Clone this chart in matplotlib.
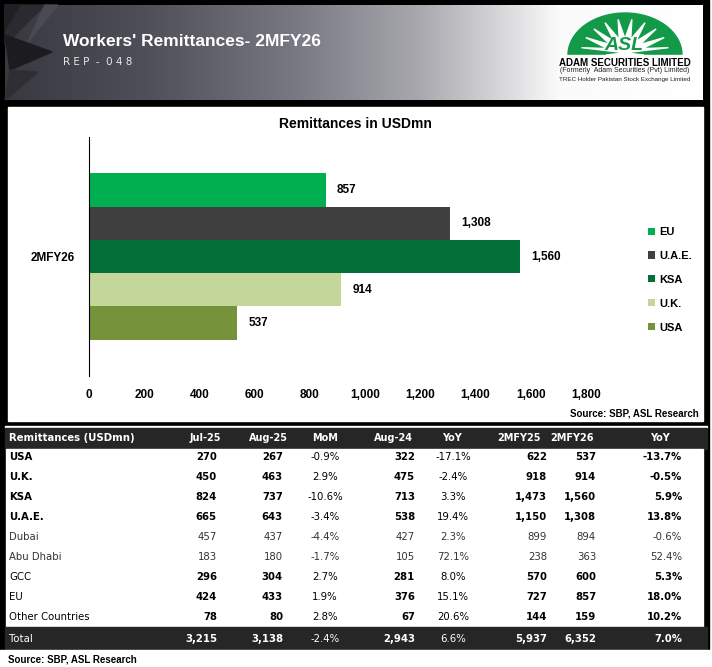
import numpy as np
import matplotlib
matplotlib.use("Agg")
import matplotlib.pyplot as plt
from matplotlib.patches import Rectangle, Polygon

# chart data (2MFY26, USDmn)
series = ["EU", "U.A.E.", "KSA", "U.K.", "USA"]
series_values = [857, 1308, 1560, 914, 537]
series_colors = ["#00b050", "#404040", "#03703a", "#c4d79b", "#76933c"]
category = "2MFY26"
x_ticks = [0, 200, 400, 600, 800, 1000, 1200, 1400, 1600, 1800]

# table data
col_heads = ["Remittances (USDmn)", "Jul-25", "Aug-25", "MoM", "Aug-24", "YoY", "2MFY25", "2MFY26", "YoY"]
rows = ["USA", "U.K.", "KSA", "U.A.E.", "Dubai", "Abu Dhabi", "GCC", "EU", "Other Countries"]
bold_rows = [True, True, True, True, False, False, True, True, True]
bold_labels = [True, True, True, True, False, False, False, False, False]
jul25 = [270, 450, 824, 665, 457, 183, 296, 424, 78]
aug25 = [267, 463, 737, 643, 437, 180, 304, 433, 80]
mom = [-0.9, 2.9, -10.6, -3.4, -4.4, -1.7, 2.7, 1.9, 2.8]
aug24 = [322, 475, 713, 538, 427, 105, 281, 376, 67]
yoy_month = [-17.1, -2.4, 3.3, 19.4, 2.3, 72.1, 8.0, 15.1, 20.6]
fy25 = [622, 918, 1473, 1150, 899, 238, 570, 727, 144]
fy26 = [537, 914, 1560, 1308, 894, 363, 600, 857, 159]
yoy_fy = [-13.7, -0.5, 5.9, 13.8, -0.6, 52.4, 5.3, 18.0, 10.2]
total = [3215, 3138, -2.4, 2943, 6.6, 5937, 6352, 7.0]

W, H = 712, 667
chart_font = ["Liberation Sans", "DejaVu Sans"]
table_font = ["DejaVu Sans"]

fig = plt.figure(figsize=(W / 100, H / 100), dpi=100)
bg = fig.add_axes([0, 0, 1, 1])
bg.set_xlim(0, W)
bg.set_ylim(H, 0)
bg.axis("off")

# frames
bg.add_patch(Rectangle((0, 0), 709, 427, color="black", zorder=0))
bg.add_patch(Rectangle((0, 427), 709, 223, color="black", zorder=0))

# header gradient
stops_x = [5, 150, 300, 420, 520, 560, 703]
stops_c = np.array([[0x38, 0x38, 0x40], [0x50, 0x50, 0x5a], [0x7a, 0x7a, 0x84],
                    [0xa8, 0xa8, 0xae], [0xe2, 0xe2, 0xe4], [0xfb, 0xfb, 0xfb],
                    [0xff, 0xff, 0xff]]) / 255
xs = np.linspace(5, 703, 400)
grad = np.stack([np.interp(xs, stops_x, stops_c[:, k]) for k in range(3)], axis=-1)[None, :, :]
bg.imshow(grad, extent=(5, 703, 100, 5), aspect="auto", zorder=1)
for pts, c in [([(5, 5), (45, 5), (5, 45)], "#2a2a30"),
               ([(5, 35), (52, 52), (10, 70)], "#1c1c20"),
               ([(10, 70), (38, 72), (5, 100)], "#2e2e34"),
               ([(5, 5), (20, 5), (5, 30)], "#202024"),
               ([(45, 5), (58, 5), (28, 42)], "#4a4a52")]:
    bg.add_patch(Polygon(pts, closed=True, color=c, zorder=2))

bg.text(63, 42, "Workers' Remittances- 2MFY26", color="white", fontsize=12.5,
        fontweight="bold", family=chart_font, va="center", ha="left", zorder=3)
bg.text(63, 62, "R E P  -  0 4 8", color="#e6e6e6", fontsize=7.5,
        family=table_font, va="center", ha="left", zorder=3)

# logo: green dome with white burst
green = "#139a48"
t = np.linspace(0, np.pi, 80)
dome = [(625 + 57 * np.cos(a), 55 - 42 * np.sin(a)) for a in t]
bg.add_patch(Polygon(dome, closed=True, color=green, zorder=3))
ang = np.linspace(np.pi * 0.05, np.pi * 0.95, 19)
rad = np.where(np.arange(19) % 2 == 0, 1.0, 0.42)
star = [(625 + 44 * r * np.cos(a), 53 - 34 * r * np.sin(a)) for a, r in zip(ang, rad)]
star = [(606, 55)] + star + [(644, 55)]
bg.add_patch(Polygon(star, closed=True, color="white", zorder=4))
bg.add_patch(Rectangle((560, 55), 130, 4, color="white", zorder=4))
bg.text(624, 46, "ASL", color=green, fontsize=14, fontweight="bold", style="italic",
        family=chart_font, ha="center", va="center", zorder=5)
bg.text(625, 63, "ADAM SECURITIES LIMITED", fontsize=7, fontweight="bold",
        family=chart_font, ha="center", va="center", zorder=5)
bg.text(625, 71, "(Formerly  Adam Securities (Pvt) Limited)", fontsize=5,
        family=chart_font, ha="center", va="center", color="#222222", zorder=5)
bg.text(625, 79, "TREC Holder Pakistan Stock Exchange Limited", fontsize=4.5,
        family=chart_font, ha="center", va="center", color="#222222", zorder=5)

# chart box
bg.add_patch(Rectangle((8, 107), 695, 314, color="white", zorder=1))
bg.text(355, 124, "Remittances in USDmn", fontsize=10, fontweight="bold",
        family=chart_font, ha="center", va="center", zorder=3)
bg.text(699, 413, "Source: SBP, ASL Research", fontsize=7, fontweight="bold",
        family=chart_font, ha="right", va="center", zorder=3)

ax = fig.add_axes([89 / W, 1 - 376 / H, 497 / W, 239 / H])
ax.set_facecolor("none")
bar_h = 0.139
offsets = (np.arange(len(series)) - 2) * bar_h
handles = []
for off, name, val, col in zip(offsets, series, series_values, series_colors):
    b = ax.barh([off], [val], height=bar_h, color=col, label=name)
    ax.bar_label(b, labels=[f"{val:,}"], padding=8, fontsize=8.5, fontweight="bold",
                 family=chart_font)
    handles.append(b)
ax.set_ylim(0.5, -0.5)
ax.set_xlim(0, 1800)
ax.set_xticks(x_ticks)
ax.set_xticklabels([f"{t:,}" for t in x_ticks], fontsize=8.5, fontweight="bold",
                   family=chart_font)
ax.set_yticks([0])
ax.set_yticklabels([category], fontsize=8.5, fontweight="bold", family=chart_font)
ax.tick_params(axis="x", length=0, pad=9)
ax.tick_params(axis="y", length=0, pad=10)
for s in ["top", "right", "bottom"]:
    ax.spines[s].set_visible(False)
ax.spines["left"].set_linewidth(0.8)

leg = fig.legend(handles=handles, labels=series, loc="upper left",
                 bbox_to_anchor=(638 / W, 1 - 217 / H), frameon=False,
                 handlelength=0.6, handleheight=0.6, handletextpad=0.4,
                 labelspacing=1.25, prop={"family": chart_font, "weight": "bold", "size": 8})

# table
bg.add_patch(Rectangle((5, 426), 702, 2, color="white", zorder=1))
bg.add_patch(Rectangle((5, 428), 702, 21, color="#262626", zorder=1))
bg.add_patch(Rectangle((6, 449), 697, 178, color="white", zorder=1))
bg.add_patch(Rectangle((5, 627), 702, 22, color="#262626", zorder=1))
bg.add_patch(Rectangle((0, 650), 712, 17, color="white", zorder=1))

# column anchors: (x, ha)
num_cols = [(217, "right"), (283, "right"), (325, "center"), (415, "right"),
            (453, "center"), (547, "right"), (596, "right"), (682, "right")]
head_x = [205, 268, 325, 393, 452, 519, 572, 660]
fs = 7.3

bg.text(9, 438, col_heads[0], color="white", fontsize=fs, fontweight="bold",
        family=table_font, ha="left", va="center", zorder=3)
for hx, h in zip(head_x, col_heads[1:]):
    bg.text(hx, 438, h, color="white", fontsize=fs - 0.3, fontweight="bold",
            family=table_font, ha="center", va="center", zorder=3)

pct_cols = {2, 4, 7}
for i, name in enumerate(rows):
    y = 457 + 20 * i
    bw = "bold" if bold_rows[i] else "normal"
    col = "black" if bold_rows[i] else "#333333"
    bg.text(9, y, name, fontsize=fs, fontweight="bold" if bold_labels[i] else "normal",
            color=col, family=table_font, ha="left", va="center", zorder=3)
    vals = [jul25[i], aug25[i], mom[i], aug24[i], yoy_month[i], fy25[i], fy26[i], yoy_fy[i]]
    for j, (v, (x, ha)) in enumerate(zip(vals, num_cols)):
        if j in pct_cols:
            txt = f"{v:.1f}%"
            w = bw if j == 7 else "normal"
        else:
            txt = f"{v:,}"
            w = bw
        bg.text(x, y, txt, fontsize=fs, fontweight=w, color=col,
                family=table_font, ha=ha, va="center", zorder=3)

yt = 639
bg.text(9, yt, "Total", fontsize=fs, color="white", family=table_font,
        ha="left", va="center", zorder=3)
for j, (v, (x, ha)) in enumerate(zip(total, num_cols)):
    if j in pct_cols:
        txt, w = f"{v:.1f}%", ("bold" if j == 7 else "normal")
    else:
        txt, w = f"{v:,}", "bold"
    bg.text(x, yt, txt, fontsize=fs, fontweight=w, color="white",
            family=table_font, ha=ha, va="center", zorder=3)

bg.text(8, 659, "Source: SBP, ASL Research", fontsize=7, fontweight="bold",
        family=chart_font, ha="left", va="center", zorder=3)

fig.savefig("out.png", dpi=100)
